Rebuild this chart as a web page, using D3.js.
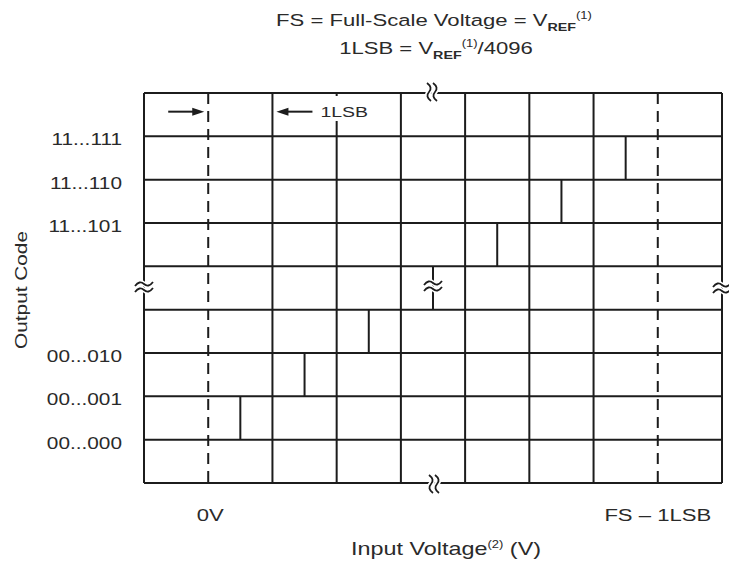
<!DOCTYPE html>
<html>
<head>
<meta charset="utf-8">
<script src="https://cdn.jsdelivr.net/npm/d3@7"></script>
<style>
  body { margin: 0; background: #fff; }
  text { font-family: "Liberation Sans", Arial, sans-serif; fill: #2a2a2a; }
</style>
</head>
<body>
<div id="chart"></div>
<script>
// output codes, bottom to top (the two blank rows sit in the break)
var codeLabels = ["00...000", "00...001", "00...010", "", "", "11...101", "11...110", "11...111"];
var gridCols = [-1, 0, 1, 2, 3, 4, 5, 6, 7, 8];   // input, in LSB
var gridRows = [-1, 0, 1, 2, 3, 4, 5, 6, 7, 8];   // output code level
var dashedCols = [0, 7];
var dashedLabels = ["0V", "FS \u2013 1LSB"];
var transitions = [0.5, 1.5, 2.5, 3.5, 4.5, 5.5, 6.5]; // code i -> i+1
var breakAt = 3.5;

var width = 729, height = 561;
var stretch = 1.3; // the source text is drawn wide
var ink = "#1c1c1c";

var x = d3.scaleLinear().domain([-1, 8]).range([144, 722]);
var y = d3.scaleLinear().domain([-1, 8]).range([483, 93]);

var svg = d3.select("#chart").append("svg")
    .attr("width", width)
    .attr("height", height);

// wide text placed at (px, py)
function label(px, py, str, size, anchor) {
    return svg.append("g")
        .attr("transform", "translate(" + px + "," + py + ")")
      .append("text")
        .attr("transform", "scale(" + stretch + ",1)")
        .attr("text-anchor", anchor || "middle")
        .attr("font-size", size)
        .text(str);
}

// grid
svg.append("g").selectAll("line")
    .data(gridRows)
    .enter().append("line")
      .attr("x1", x(-1)).attr("x2", x(8))
      .attr("y1", d => y(d)).attr("y2", d => y(d))
      .attr("stroke", ink).attr("stroke-width", 2);

svg.append("g").selectAll("line")
    .data(gridCols.filter(c => dashedCols.indexOf(c) < 0))
    .enter().append("line")
      .attr("x1", d => x(d)).attr("x2", d => x(d))
      .attr("y1", y(-1)).attr("y2", y(8))
      .attr("stroke", ink).attr("stroke-width", 2);

svg.append("g").selectAll("line")
    .data(dashedCols)
    .enter().append("line")
      .attr("x1", d => x(d)).attr("x2", d => x(d))
      .attr("y1", y(8)).attr("y2", y(-1))
      .attr("stroke", ink).attr("stroke-width", 2)
      .attr("stroke-dasharray", "11,7");

// code transitions (the steps)
svg.append("g").selectAll("line")
    .data(transitions)
    .enter().append("line")
      .attr("x1", d => x(d)).attr("x2", d => x(d))
      .attr("y1", (d, i) => y(i)).attr("y2", (d, i) => y(i + 1))
      .attr("stroke", ink).attr("stroke-width", 2);

// break marks
var tilde = "M-9,2 Q-4.5,-4 0,0 T9,-2";
function breakMark(px, py, angle) {
    var g = svg.append("g")
        .attr("transform", "translate(" + px + "," + py + ") rotate(" + angle + ")");
    [-3, 3].forEach(function (off) {
        g.append("path").attr("d", tilde)
            .attr("transform", "translate(0," + off + ")")
            .attr("fill", "none").attr("stroke", "#fff").attr("stroke-width", 5);
    });
    [-3, 3].forEach(function (off) {
        g.append("path").attr("d", tilde)
            .attr("transform", "translate(0," + off + ")")
            .attr("fill", "none").attr("stroke", ink).attr("stroke-width", 1.8);
    });
}
breakMark(x(-1), y(breakAt) - 1, 0);
breakMark(x(breakAt), y(breakAt) - 2, 0);
breakMark(x(8), y(breakAt), 0);
breakMark(x(breakAt) - 1, y(8) - 1, 90);
breakMark(x(breakAt) + 1, y(-1) + 1, 90);

// 1LSB arrows
var arrowY = y(7.5) - 3;
function arrow(tail, tip) {
    var dir = tip > tail ? 1 : -1;
    svg.append("line")
        .attr("x1", tail).attr("x2", tip - dir * 8)
        .attr("y1", arrowY).attr("y2", arrowY)
        .attr("stroke", ink).attr("stroke-width", 2);
    svg.append("path")
        .attr("d", "M" + tip + "," + arrowY +
                   "L" + (tip - dir * 12) + "," + (arrowY - 4) +
                   "L" + (tip - dir * 12) + "," + (arrowY + 4) + "Z")
        .attr("fill", ink);
}
arrow(x(0) - 40, x(0) - 4);
arrow(x(1) + 40, x(1) + 4);

svg.append("rect")
    .attr("x", x(1) + 45).attr("y", y(8) + 3)
    .attr("width", 54).attr("height", 25)
    .attr("fill", "#fff");
label(x(1) + 48, arrowY + 5.5, "1LSB", 15, "start");

// output code labels
codeLabels.forEach(function (c, i) {
    if (c) label(122, y(i) + 9, c, 16, "end");
});

// input labels under the dashed lines
dashedCols.forEach(function (c, i) {
    label(x(c) + (i ? 0 : 2), 521, dashedLabels[i], 17, "middle");
});

// axis titles
svg.append("g")
    .attr("transform", "translate(27,290) rotate(-90)")
  .append("text")
    .attr("transform", "scale(" + stretch + ",1)")
    .attr("text-anchor", "middle")
    .attr("font-size", 16)
    .text("Output Code");

var xt = label(446, 555, "Input Voltage", 18, "middle");
xt.append("tspan").attr("font-size", 10).attr("dy", -7).text("(2)");
xt.append("tspan").attr("dy", 7).text(" (V)");

// title
var t1 = label(434, 26, "FS = Full-Scale Voltage = V", 17, "middle");
t1.append("tspan").attr("font-size", 11).attr("font-weight", "bold").attr("dy", 5).text("REF");
t1.append("tspan").attr("font-size", 10).attr("dy", -12).text("(1)");

var t2 = label(436, 54, "1LSB = V", 17, "middle");
t2.append("tspan").attr("font-size", 11).attr("font-weight", "bold").attr("dy", 5).text("REF");
t2.append("tspan").attr("font-size", 10).attr("dy", -12).text("(1)");
t2.append("tspan").attr("dy", 7).text("/4096");
</script>
</body>
</html>
